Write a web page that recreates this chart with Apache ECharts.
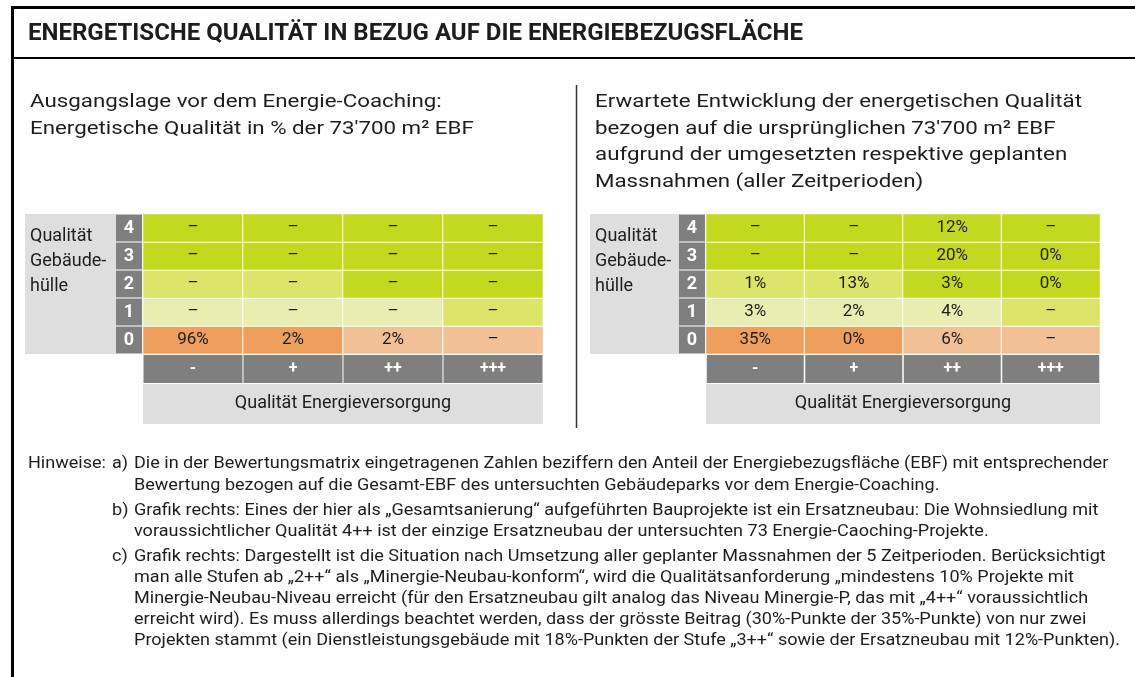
<!DOCTYPE html>
<html>
<head>
<meta charset="utf-8">
<script src="https://cdn.jsdelivr.net/npm/echarts@6/dist/echarts.min.js"></script>
<style>
    html, body { margin: 0; padding: 0; background: #fff; }
    #main { width: 1135px; height: 677px; }
</style>
</head>
<body>
<div id="main"></div>
<script>
/** data start */
var xCategories = ['-', '+', '++', '+++'];
var yCategories = ['0', '1', '2', '3', '4'];

// Zeilen 0..4, Spalten - / + / ++ / +++
var leftValues = [
    ['96%', '2%', '2%', '–'],
    ['–', '–', '–', '–'],
    ['–', '–', '–', '–'],
    ['–', '–', '–', '–'],
    ['–', '–', '–', '–']
];
var rightValues = [
    ['35%', '0%', '6%', '–'],
    ['3%', '2%', '4%', '–'],
    ['1%', '13%', '3%', '0%'],
    ['–', '–', '20%', '0%'],
    ['–', '–', '12%', '–']
];
// Farbklasse jeder Zelle (0 = orange ... 4 = hellgrün)
var cellBands = [
    [0, 0, 1, 1],
    [2, 2, 2, 3],
    [3, 3, 4, 4],
    [4, 4, 4, 4],
    [4, 4, 4, 4]
];
var bandColors = ['#ee9f5e', '#f2c097', '#e8edb1', '#dce46a', '#c3d91f'];
/** data end */

(function () {

    var FONT = 'Roboto, "Noto Sans", sans-serif';
    var INK = '#1d1d1b';
    var ctx = document.createElement('canvas').getContext('2d');

    /**
     * Breite eines Textes messen
     */
    function textWidth(text, font) {
        ctx.font = font;
        return ctx.measureText(text).width;
    }

    function fontOf(size, weight) {
        return (weight || 'normal') + ' ' + size + 'px ' + FONT;
    }

    /**
     * Textzeile mit horizontaler Stauchung s
     */
    function line(text, x, y, size, s, weight) {
        return {
            type: 'text', x: x, y: y, scaleX: s || 1, z: 10,
            style: {
                text: text, font: fontOf(size, weight), fill: INK,
                textAlign: 'left', textVerticalAlign: 'middle',
                align: 'left', verticalAlign: 'middle'
            }
        };
    }

    /**
     * Stauchung so, dass ein Referenztext die Zielbreite hat
     */
    function fit(text, size, width, weight) {
        return width / textWidth(text, fontOf(size, weight));
    }

    function buildCells(values) {
        var data = [];
        for (var y = 0; y < yCategories.length; y++) {
            for (var x = 0; x < xCategories.length; x++) {
                data.push([x, y, cellBands[y][x], values[y][x]]);
            }
        }
        return data;
    }

    var AXIS_NAME = 'Qualität Energieversorgung';

    function xAxis(gridIndex, width, labelWidth) {
        var pad = (width - textWidth(AXIS_NAME, fontOf(18))) / 2;
        return {
            type: 'category', gridIndex: gridIndex, data: xCategories, position: 'bottom',
            axisLine: { show: false }, axisTick: { show: false }, splitLine: { show: false },
            axisLabel: {
                margin: 1, width: labelWidth, height: 28, lineHeight: 28,
                backgroundColor: '#7f7f7f', color: '#fff', fontWeight: 'bold',
                fontSize: 16, fontFamily: FONT, align: 'center'
            },
            name: AXIS_NAME, nameLocation: 'middle', nameGap: 29,
            nameTextStyle: {
                backgroundColor: '#dedede', height: 40, lineHeight: 40, padding: [0, pad],
                color: INK, fontSize: 18, fontFamily: FONT, align: 'center', verticalAlign: 'top'
            }
        };
    }

    function yAxis(gridIndex) {
        return {
            type: 'category', gridIndex: gridIndex, data: yCategories,
            axisLine: { show: false }, axisTick: { show: false }, splitLine: { show: false },
            axisLabel: {
                margin: 14, align: 'center', width: 26, height: 27, lineHeight: 27,
                backgroundColor: '#7f7f7f', color: '#fff', fontWeight: 'bold',
                fontSize: 18, fontFamily: FONT
            }
        };
    }

    function heat(index, values) {
        return {
            type: 'heatmap', xAxisIndex: index, yAxisIndex: index,
            data: buildCells(values),
            itemStyle: { borderColor: '#fff', borderWidth: 1 },
            label: {
                show: true, color: INK, fontSize: 17, fontFamily: FONT,
                formatter: function (p) { return p.value[3]; }
            },
            emphasis: { disabled: true }
        };
    }

    function sideLabel(x0, x1) {
        return [
            { type: 'rect', shape: { x: x0, y: 214, width: x1 - x0, height: 140 }, style: { fill: '#dedede' } },
            line('Qualität', x0 + 5, 236, 18),
            line('Gebäude-', x0 + 5, 261, 18),
            line('hülle', x0 + 5, 286, 18)
        ];
    }

    var TITLE = 'ENERGETISCHE QUALITÄT IN BEZUG AUF DIE ENERGIEBEZUGSFLÄCHE';
    var head = [
        'Erwartete Entwicklung der energetischen Qualität',
        'bezogen auf die ursprünglichen 73\'700 m² EBF',
        'aufgrund der umgesetzten respektive geplanten',
        'Massnahmen (aller Zeitperioden)'
    ];
    var notes = [
        'Die in der Bewertungsmatrix eingetragenen Zahlen beziffern den Anteil der Energiebezugsfläche (EBF) mit entsprechender',
        'Bewertung bezogen auf die Gesamt-EBF des untersuchten Gebäudeparks vor dem Energie-Coaching.',
        'Grafik rechts: Eines der hier als „Gesamtsanierung“ aufgeführten Bauprojekte ist ein Ersatzneubau: Die Wohnsiedlung mit',
        'voraussichtlicher Qualität 4++ ist der einzige Ersatzneubau der untersuchten 73 Energie-Caoching-Projekte.',
        'Grafik rechts: Dargestellt ist die Situation nach Umsetzung aller geplanter Massnahmen der 5 Zeitperioden. Berücksichtigt',
        'man alle Stufen ab „2++“ als „Minergie-Neubau-konform“, wird die Qualitätsanforderung „mindestens 10% Projekte mit',
        'Minergie-Neubau-Niveau erreicht (für den Ersatzneubau gilt analog das Niveau Minergie-P, das mit „4++“ voraussichtlich',
        'erreicht wird). Es muss allerdings beachtet werden, dass der grösste Beitrag (30%-Punkte der 35%-Punkte) von nur zwei',
        'Projekten stammt (ein Dienstleistungsgebäude mit 18%-Punkten der Stufe „3++“ sowie der Ersatzneubau mit 12%-Punkten).'
    ];
    var noteY = [464, 486, 511, 532, 557, 578, 599, 620, 641];

    var sHead = fit(head[0], 19, 1082 - 595);
    var sNote = fit(notes[8], 16, 1122 - 136);

    var graphics = [
        { type: 'line', shape: { x1: 12, y1: 7.5, x2: 1135, y2: 7.5 }, style: { stroke: '#000', lineWidth: 3 } },
        { type: 'line', shape: { x1: 12.5, y1: 6, x2: 12.5, y2: 677 }, style: { stroke: '#000', lineWidth: 3 } },
        { type: 'line', shape: { x1: 12, y1: 58, x2: 1135, y2: 58 }, style: { stroke: '#000', lineWidth: 2 } },
        { type: 'line', shape: { x1: 576.5, y1: 85, x2: 576.5, y2: 428 }, style: { stroke: '#333', lineWidth: 1.5 } },
        line(TITLE, 28, 34, 24, fit(TITLE, 24, 803 - 28, 'bold'), 'bold'),

        line('Ausgangslage vor dem Energie-Coaching:', 30, 102, 19, sHead),
        line('Energetische Qualität in % der 73\'700 m² EBF', 30, 129, 19, sHead),
        line('Hinweise:', 28, 464, 16, sNote),
        line('a)', 112, 464, 16, sNote),
        line('b)', 112, 511, 16, sNote),
        line('c)', 112, 557, 16, sNote)
    ];
    head.forEach(function (t, i) {
        graphics.push(line(t, 595, [102, 129, 155, 182][i], 19, sHead));
    });
    notes.forEach(function (t, i) {
        graphics.push(line(t, 134, noteY[i], 16, sNote));
    });
    graphics = graphics.concat(sideLabel(25, 116), sideLabel(590, 680));

    var option = {
        animation: false,
        backgroundColor: '#fff',
        grid: [
            { left: 143, top: 214, width: 400, height: 140 },
            { left: 706, top: 214, width: 394, height: 140 }
        ],
        xAxis: [xAxis(0, 400, 99), xAxis(1, 394, 97)],
        yAxis: [yAxis(0), yAxis(1)],
        visualMap: {
            type: 'piecewise', show: false, dimension: 2, seriesIndex: [0, 1],
            pieces: bandColors.map(function (c, i) { return { value: i, color: c }; })
        },
        series: [heat(0, leftValues), heat(1, rightValues)],
        graphic: graphics
    };

    var myChart = echarts.init(document.getElementById('main'), null, { renderer: 'canvas' });
    myChart.setOption(option);
})();
</script>
</body>
</html>
